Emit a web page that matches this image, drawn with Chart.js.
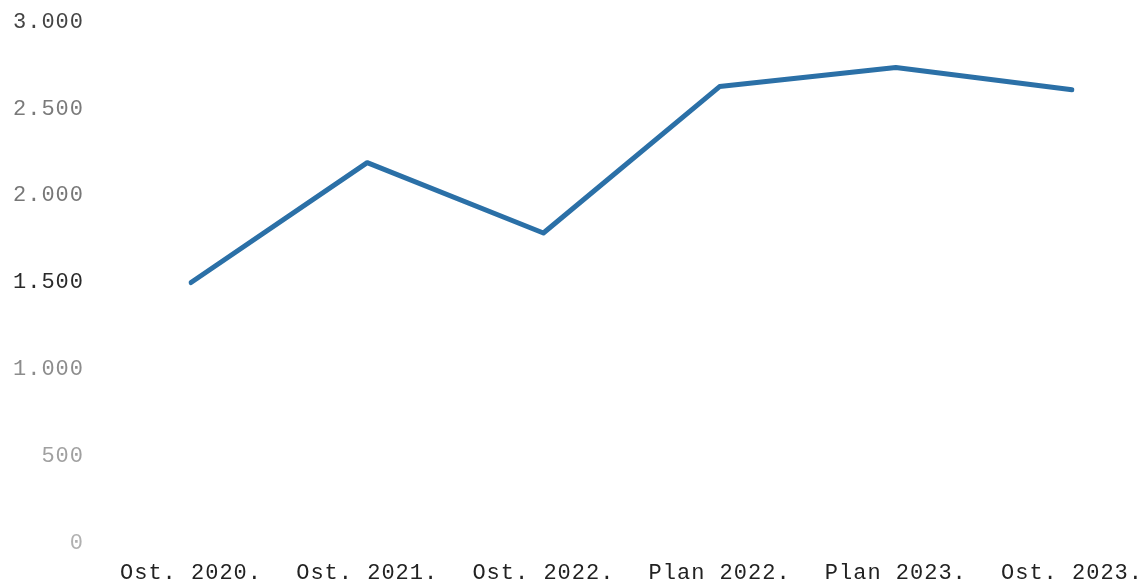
<!DOCTYPE html>
<html>
<head>
<meta charset="utf-8">
<script src="https://cdn.jsdelivr.net/npm/chart.js@4"></script>
<style>
  html, body { margin: 0; padding: 0; background: #fff; }
  #wrap { width: 1147px; height: 583px; }
</style>
</head>
<body>
<div id="wrap"><canvas id="chart"></canvas></div>
<script>
// podaci
const kategorije = ['Ost. 2020.', 'Ost. 2021.', 'Ost. 2022.', 'Plan 2022.', 'Plan 2023.', 'Ost. 2023.'];
const vrijednosti = [1500, 2190, 1785, 2628, 2738, 2610];
const yTickovi = [0, 500, 1000, 1500, 2000, 2500, 3000];
const yBojeTickova = ['#b0b0b0', '#a0a0a0', '#8c8c8c', '#2a2a2a', '#777777', '#7a7a7a', '#444444'];

// razmak slova (canvas ga resetira pri resize)
const razmakSlova = {
  id: 'razmakSlova',
  beforeLayout(chart) { chart.ctx.letterSpacing = '1px'; },
  beforeDraw(chart) { chart.ctx.letterSpacing = '1px'; }
};

function formatBroja(v) {
  return String(v).replace(/\B(?=(\d{3})+(?!\d))/g, '.');
}

new Chart(document.getElementById('chart'), {
  type: 'line',
  data: {
    labels: kategorije,
    datasets: [{
      data: vrijednosti,
      borderColor: '#2b70a7',
      borderWidth: 5,
      borderCapStyle: 'round',
      borderJoinStyle: 'round',
      pointRadius: 0,
      tension: 0,
      fill: false
    }]
  },
  options: {
    responsive: true,
    maintainAspectRatio: false,
    animation: false,
    layout: { padding: { top: 22, right: 75, left: 12, bottom: 0 } },
    plugins: { legend: { display: false }, tooltip: { enabled: false } },
    scales: {
      x: {
        offset: false,
        grid: { display: false, drawTicks: false },
        border: { display: false },
        afterFit(axis) { axis.paddingLeft = 0; axis.paddingRight = 0; axis.height = 40; },
        ticks: {
          color: '#222',
          padding: 19,
          maxRotation: 0,
          autoSkip: false,
          font: { family: 'Liberation Mono', size: 22, lineHeight: 1 }
        }
      },
      y: {
        min: 0,
        max: 3000,
        afterBuildTicks(axis) { axis.ticks = yTickovi.map(v => ({ value: v })); },
        afterFit(axis) { axis.paddingTop = 0; axis.paddingBottom = 0; axis.width = 179; },
        grid: { display: false, drawTicks: false },
        border: { display: false },
        ticks: {
          padding: 107,
          color: (ctx) => yBojeTickova[yTickovi.indexOf(ctx.tick.value)] || '#888',
          callback: (v) => formatBroja(v),
          font: { family: 'Liberation Mono', size: 22, lineHeight: 1 }
        }
      }
    }
  },
  plugins: [razmakSlova]
});
</script>
</body>
</html>
